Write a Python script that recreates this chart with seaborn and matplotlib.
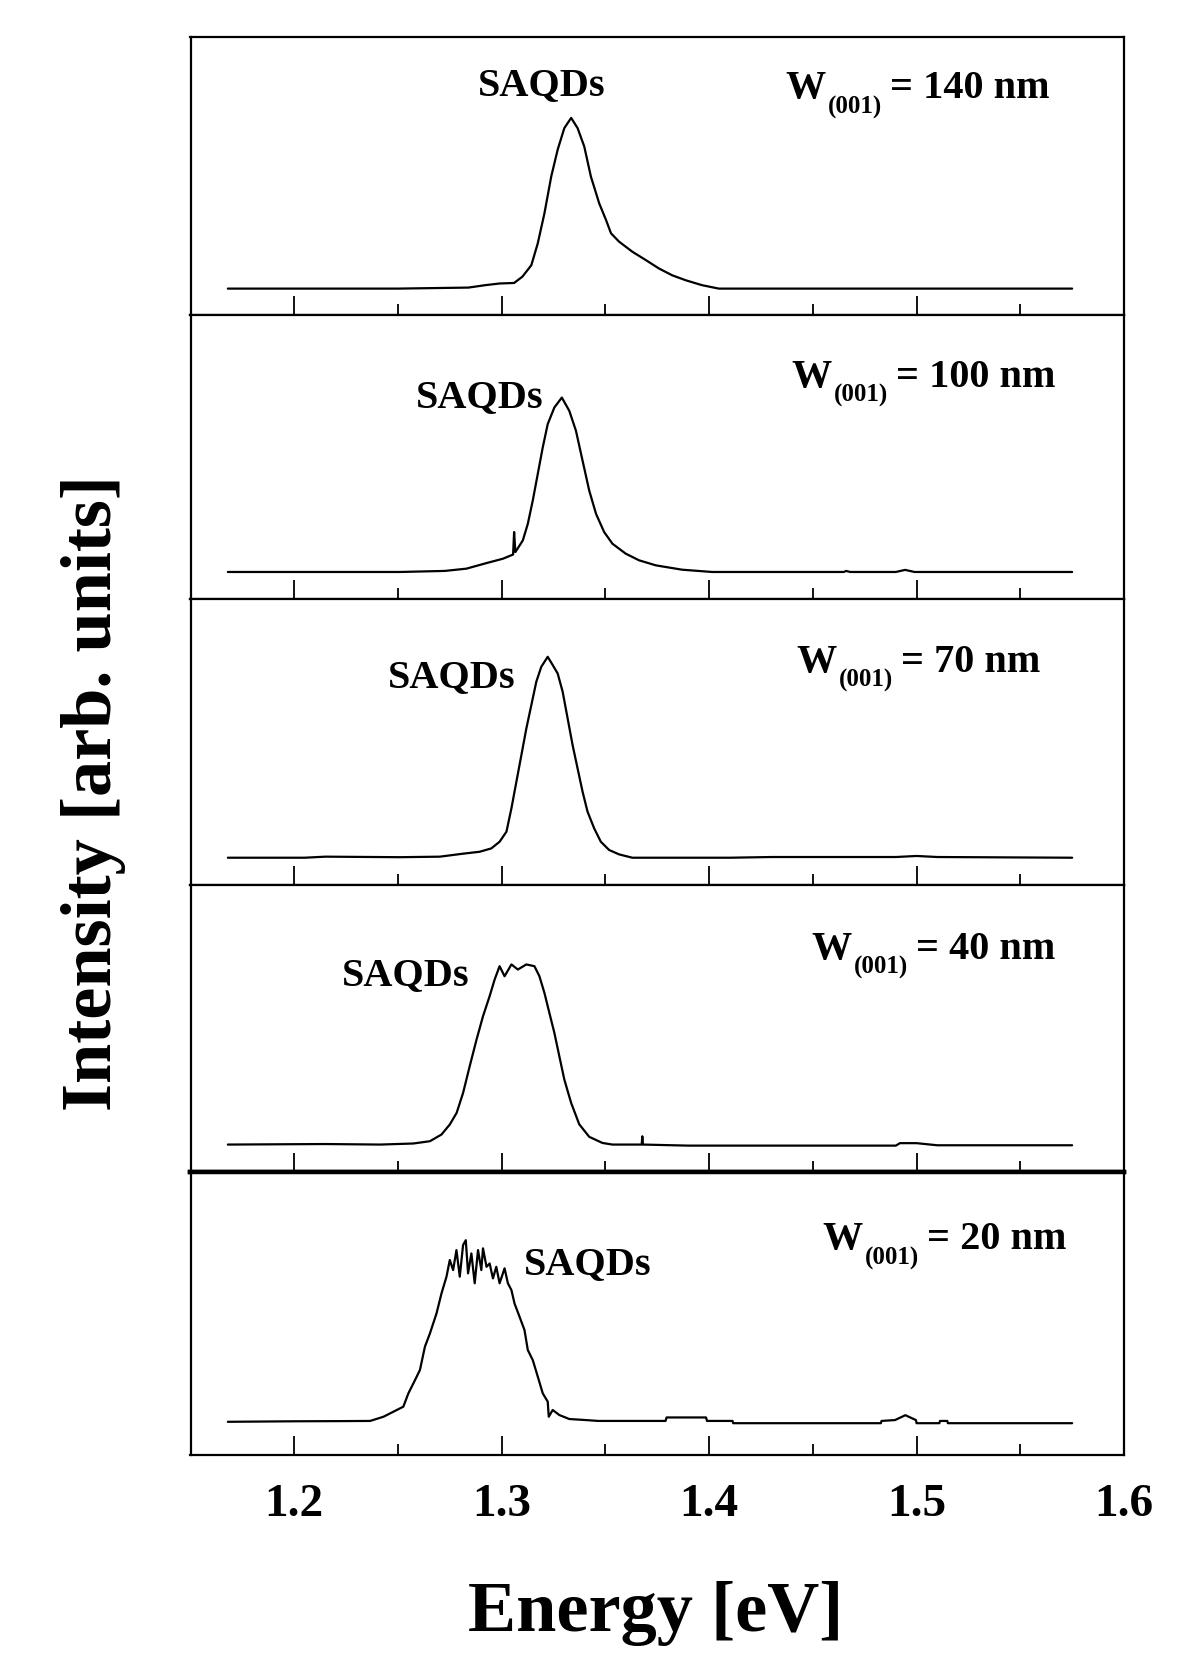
import matplotlib
matplotlib.use("Agg")
import matplotlib.pyplot as plt
import pandas as pd
import seaborn as sns

# ---------------- data ----------------
widths = ["140 nm", "100 nm", "70 nm", "40 nm", "20 nm"]

spec_140 = [(1.168, 0.0), (1.250, 0.0), (1.284, 0.006), (1.292, 0.02), (1.299, 0.03),
            (1.306, 0.033), (1.310, 0.07), (1.3143, 0.137), (1.3174, 0.265), (1.3206, 0.44),
            (1.3239, 0.657), (1.327, 0.814), (1.3302, 0.94), (1.3335, 1.0), (1.3366, 0.94),
            (1.3398, 0.833), (1.343, 0.657), (1.347, 0.5), (1.3503, 0.402), (1.3527, 0.324),
            (1.3566, 0.275), (1.363, 0.216), (1.3695, 0.167), (1.3758, 0.118), (1.3822, 0.078),
            (1.3887, 0.049), (1.3966, 0.02), (1.4047, 0.0), (1.45, 0.0), (1.50, 0.0), (1.575, 0.0)]

spec_100 = [(1.168, 0.0), (1.251, 0.0), (1.2726, 0.006), (1.283, 0.019), (1.2927, 0.051),
            (1.3006, 0.076), (1.3055, 0.10), (1.3060, 0.229), (1.3066, 0.114), (1.3102, 0.181),
            (1.3126, 0.276), (1.315, 0.41), (1.3174, 0.562), (1.3198, 0.714), (1.3222, 0.848),
            (1.3254, 0.943), (1.329, 1.0), (1.3326, 0.924), (1.3358, 0.81), (1.339, 0.638),
            (1.3422, 0.467), (1.3455, 0.333), (1.3494, 0.229), (1.3534, 0.162), (1.3598, 0.105),
            (1.3662, 0.067), (1.3743, 0.038), (1.387, 0.013), (1.4014, 0.0), (1.465, 0.0),
            (1.466, 0.006), (1.468, 0.0), (1.490, 0.0), (1.4945, 0.012), (1.499, 0.0), (1.575, 0.0)]

spec_70 = [(1.168, 0.0), (1.205, 0.0), (1.215, 0.006), (1.251, 0.003), (1.2702, 0.006),
           (1.2814, 0.023), (1.2894, 0.034), (1.295, 0.053), (1.299, 0.091), (1.3023, 0.148),
           (1.3047, 0.281), (1.3071, 0.433), (1.3095, 0.584), (1.3119, 0.736), (1.3143, 0.869),
           (1.3167, 1.002), (1.3191, 1.087), (1.3222, 1.144), (1.3246, 1.097), (1.327, 1.049),
           (1.3294, 0.945), (1.3318, 0.793), (1.3342, 0.641), (1.3366, 0.508), (1.339, 0.376),
           (1.3414, 0.262), (1.3446, 0.167), (1.3478, 0.091), (1.3518, 0.044), (1.3566, 0.019),
           (1.363, 0.0), (1.41, 0.0), (1.43, 0.004), (1.49, 0.004), (1.50, 0.01), (1.51, 0.004),
           (1.575, 0.0)]

spec_40 = [(1.168, 0.0), (1.215, 0.003), (1.2414, 0.0), (1.2574, 0.006), (1.2654, 0.019),
           (1.271, 0.057), (1.275, 0.114), (1.2783, 0.18), (1.2814, 0.293), (1.2846, 0.445),
           (1.2879, 0.596), (1.291, 0.728), (1.2942, 0.842), (1.2966, 0.936), (1.299, 1.012),
           (1.3014, 0.955), (1.3047, 1.022), (1.3078, 0.993), (1.3119, 1.022), (1.3158, 1.012),
           (1.3182, 0.955), (1.3206, 0.861), (1.323, 0.747), (1.3254, 0.634), (1.3278, 0.501),
           (1.3302, 0.369), (1.3335, 0.236), (1.3374, 0.115), (1.3422, 0.044), (1.3486, 0.009),
           (1.3534, 0.0), (1.3675, 0.0), (1.3678, 0.047), (1.3681, 0.0), (1.39, -0.006),
           (1.49, -0.006), (1.492, 0.008), (1.50, 0.008), (1.51, -0.004), (1.575, -0.004)]

spec_20 = [(1.168, 0.035), (1.20, 0.038), (1.2222, 0.039), (1.2366, 0.04), (1.243, 0.064),
           (1.2478, 0.093), (1.2526, 0.122), (1.255, 0.198), (1.2574, 0.255), (1.2606, 0.333),
           (1.263, 0.467), (1.2654, 0.543), (1.2686, 0.659), (1.271, 0.774), (1.2734, 0.87),
           (1.275, 0.966), (1.2766, 0.908), (1.2782, 1.023), (1.2798, 0.87), (1.2814, 1.052),
           (1.2827, 1.08), (1.2838, 0.889), (1.2854, 1.004), (1.287, 0.832), (1.2886, 1.023),
           (1.2902, 0.908), (1.291, 1.033), (1.2927, 0.927), (1.2942, 0.946), (1.2958, 0.86),
           (1.2974, 0.927), (1.299, 0.832), (1.3014, 0.918), (1.303, 0.832), (1.3047, 0.793),
           (1.3062, 0.716), (1.3086, 0.64), (1.311, 0.563), (1.3126, 0.448), (1.315, 0.39),
           (1.3174, 0.295), (1.3198, 0.199), (1.3222, 0.151), (1.3227, 0.064), (1.3246, 0.103),
           (1.3278, 0.074), (1.3326, 0.051), (1.3406, 0.045), (1.3465, 0.04), (1.379, 0.04),
           (1.3795, 0.06), (1.3985, 0.06), (1.399, 0.04), (1.4113, 0.04), (1.4116, 0.027),
           (1.4828, 0.027), (1.4831, 0.04), (1.4896, 0.045), (1.4946, 0.073), (1.4997, 0.045),
           (1.500, 0.027), (1.511, 0.027), (1.5113, 0.04), (1.5148, 0.04), (1.5151, 0.027),
           (1.575, 0.027)]

spectra = [spec_140, spec_100, spec_70, spec_40, spec_20]

major_ticks = [1.2, 1.3, 1.4, 1.5, 1.6]
minor_ticks = [1.25, 1.35, 1.45, 1.55]
tick_labels = ["1.2", "1.3", "1.4", "1.5", "1.6"]

# ---------------- style ----------------
sns.set_style("ticks")
plt.rcParams["font.family"] = ["Liberation Serif", "DejaVu Serif"]
plt.rcParams["font.weight"] = "bold"
plt.rcParams["text.color"] = "black"
plt.rcParams["axes.labelcolor"] = "black"
plt.rcParams["xtick.color"] = "black"
plt.rcParams["ytick.color"] = "black"
plt.rcParams["axes.edgecolor"] = "black"

W, H = 1200, 1680
fig = plt.figure(figsize=(12, 16.8), dpi=100)
gs = fig.add_gridspec(5, 1, left=190.5 / W, right=1124 / W, top=1 - 37.3 / H,
                      bottom=1 - 1455 / H, hspace=0,
                      height_ratios=[278, 284, 286, 287, 283])


def fxy(px, py):
    return px / W, 1 - py / H


# label positions (pixels in the 1200x1680 frame)
w_left = [785, 791, 796, 811, 822]
w_base = [98.3, 386.8, 671.8, 959, 1249.3]
saq_cx = [542, 479.5, 452, 405.5, 588]
saq_base = [95, 407, 687, 985, 1274]

axes = []
for i, (spec, wlab) in enumerate(zip(spectra, widths)):
    ax = fig.add_subplot(gs[i])
    axes.append(ax)
    df = pd.DataFrame(spec, columns=["Energy", "Intensity"])
    sns.lineplot(data=df, x="Energy", y="Intensity", ax=ax, color="black",
                 linewidth=1.6, estimator=None, sort=False)
    ax.set_xlim(1.15, 1.6)
    ax.set_ylim(-0.156, 1.472)
    ax.set_xlabel("")
    ax.set_ylabel("")
    ax.set_yticks([])
    ax.set_xticks(major_ticks)
    ax.set_xticks(minor_ticks, minor=True)
    ax.tick_params(axis="x", which="major", direction="in", length=14, width=1.3,
                   top=False, bottom=True, pad=21, colors="black")
    ax.tick_params(axis="x", which="minor", direction="in", length=8, width=1.3,
                   top=False, bottom=True, colors="black")
    for sp in ax.spines.values():
        sp.set_linewidth(1.6)
        sp.set_color("black")
        sp.set_visible(True)
    if i < 4:
        ax.tick_params(axis="x", which="both", labelbottom=False)
    else:
        ax.set_xticklabels(tick_labels, fontsize=34, fontweight="bold", color="black")

    # annotations
    x, y = fxy(saq_cx[i], saq_base[i])
    fig.text(x, y, "SAQDs", fontsize=29, fontweight="bold", ha="center", va="baseline",
             color="black")
    x, y = fxy(w_left[i], w_base[i])
    fig.text(x, y, "W", fontsize=29, fontweight="bold", ha="left", va="baseline",
             color="black")
    x, y = fxy(w_left[i] + 43, w_base[i] + 15)
    fig.text(x, y, "(001)", fontsize=18, fontweight="bold", ha="left", va="baseline",
             color="black")
    x, y = fxy(w_left[i] + 105, w_base[i])
    fig.text(x, y, "= " + wlab, fontsize=29, fontweight="bold", ha="left", va="baseline",
             color="black")

axes[3].spines["bottom"].set_linewidth(3.2)
axes[4].spines["top"].set_linewidth(3.2)

x, y = fxy(656, 1631)
fig.text(x, y, "Energy [eV]", fontsize=52, fontweight="bold", ha="center", va="baseline",
         color="black")
x, y = fxy(111, 793)
fig.text(x, y, "Intensity [arb. units]", fontsize=52, fontweight="bold", ha="center",
         va="baseline", rotation=90, rotation_mode="anchor", color="black")

fig.savefig("out.png", dpi=100)
